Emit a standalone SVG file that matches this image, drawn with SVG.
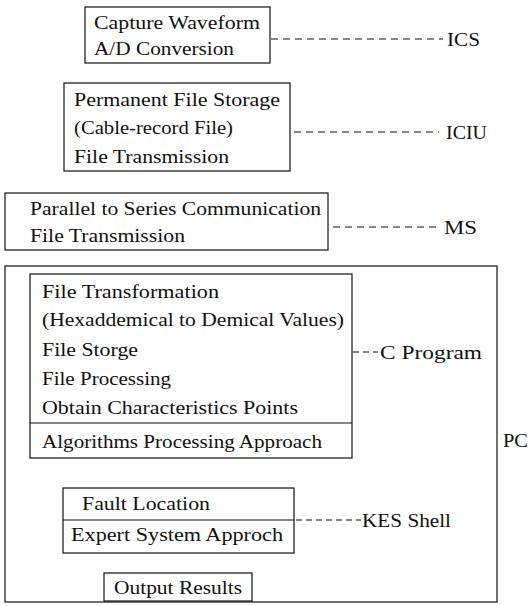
<svg xmlns="http://www.w3.org/2000/svg" width="531" height="606" viewBox="0 0 531 606">
<style>
.b{fill:none;stroke:#111;stroke-width:1.2}
.d{fill:none;stroke:#111;stroke-width:1.1;stroke-dasharray:7 5}
.s{stroke-dasharray:6 4}
text{font-family:"Liberation Serif","Times New Roman",serif;font-size:19px;fill:#111}
</style>
<rect width="531" height="606" fill="#fff"/>
<g id="ics">
<rect class="b" x="85" y="7" width="185" height="56"/>
<text x="94" y="29" textLength="166" lengthAdjust="spacingAndGlyphs">Capture Waveform</text>
<text x="94" y="55" textLength="140" lengthAdjust="spacingAndGlyphs">A/D Conversion</text>
</g>
<g id="iciu">
<rect class="b" x="64" y="83" width="226" height="88"/>
<text x="74" y="106" textLength="206" lengthAdjust="spacingAndGlyphs">Permanent File Storage</text>
<text x="74" y="134" textLength="159" lengthAdjust="spacingAndGlyphs">(Cable-record File)</text>
<text x="74" y="163" textLength="155" lengthAdjust="spacingAndGlyphs">File Transmission</text>
</g>
<g id="ms">
<rect class="b" x="5" y="193" width="323" height="57"/>
<text x="30" y="215" textLength="291" lengthAdjust="spacingAndGlyphs">Parallel to Series Communication</text>
<text x="30" y="242" textLength="155" lengthAdjust="spacingAndGlyphs">File Transmission</text>
</g>
<g id="pc">
<rect class="b" x="5" y="266" width="492" height="336"/>
<text x="503" y="447" textLength="25" lengthAdjust="spacingAndGlyphs">PC</text>
</g>
<g id="cprog">
<rect class="b" x="30" y="274" width="322" height="184"/>
<line class="b" x1="30" y1="423" x2="352" y2="423"/>
<text x="42" y="298" textLength="177" lengthAdjust="spacingAndGlyphs">File Transformation</text>
<text x="42" y="326" textLength="302" lengthAdjust="spacingAndGlyphs">(Hexaddemical to Demical Values)</text>
<text x="42" y="356" textLength="96" lengthAdjust="spacingAndGlyphs">File Storge</text>
<text x="42" y="385" textLength="129" lengthAdjust="spacingAndGlyphs">File Processing</text>
<text x="42" y="414" textLength="256" lengthAdjust="spacingAndGlyphs">Obtain Characteristics Points</text>
<text x="42" y="448" textLength="280" lengthAdjust="spacingAndGlyphs">Algorithms Processing Approach</text>
</g>
<g id="kes">
<rect class="b" x="63" y="488" width="231" height="65"/>
<line class="b" x1="63" y1="520" x2="294" y2="520"/>
<text x="82" y="510" textLength="128" lengthAdjust="spacingAndGlyphs">Fault Location</text>
<text x="71" y="541" textLength="212" lengthAdjust="spacingAndGlyphs">Expert System Approch</text>
</g>
<g id="out">
<rect class="b" x="104" y="573" width="148" height="28"/>
<text x="114" y="594" textLength="128" lengthAdjust="spacingAndGlyphs">Output Results</text>
</g>
<g id="connectors">
<line class="d" x1="271" y1="39" x2="443" y2="39"/>
<line class="d" x1="294" y1="132" x2="439" y2="132"/>
<line class="d" x1="333" y1="227" x2="441" y2="227"/>
<line class="d s" x1="353" y1="352" x2="378" y2="352"/>
<line class="d s" x1="296" y1="520" x2="361" y2="520"/>
</g>
<g id="labels">
<text x="447" y="46" textLength="33" lengthAdjust="spacingAndGlyphs">ICS</text>
<text x="446" y="139" textLength="41" lengthAdjust="spacingAndGlyphs">ICIU</text>
<text x="444" y="234" textLength="33" lengthAdjust="spacingAndGlyphs">MS</text>
<text x="380" y="359" textLength="102" lengthAdjust="spacingAndGlyphs">C Program</text>
<text x="362" y="527" textLength="89" lengthAdjust="spacingAndGlyphs">KES Shell</text>
</g>
</svg>
